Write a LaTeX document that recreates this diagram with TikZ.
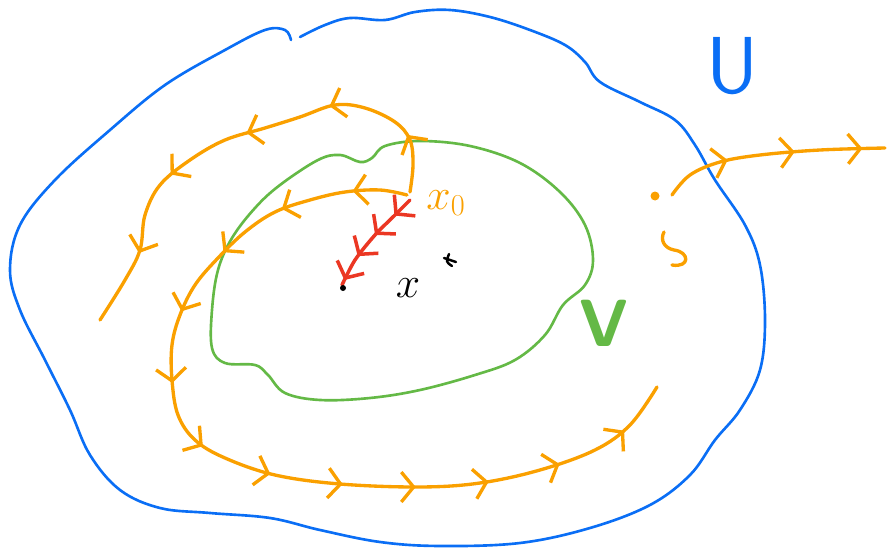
\documentclass[tikz,border=0pt]{standalone}
\usetikzlibrary{arrows.meta, decorations.markings}
\usepackage{xcolor}

\definecolor{ublue}{RGB}{10,110,245}
\definecolor{vgreen}{RGB}{100,185,70}
\definecolor{orbitc}{RGB}{250,160,0}
\definecolor{flowred}{RGB}{235,55,35}

\begin{document}
\begin{tikzpicture}[x=0.02cm, y=-0.02cm,
        setline/.style={line width=1.5pt, line cap=round, line join=round},
        barbs/.style 2 args={postaction={decorate}, decoration={markings,
                    mark=between positions #1 and 0.97 step #2 with
                    {\arrow{Straight Barb[length=7pt, width=17pt]}}}},
        orbit/.style={draw=orbitc, line width=1.9pt, line cap=round, line join=round},
    ]
        \useasboundingbox (0,0) rectangle (887,551);

        % the open set U
        \draw[setline, draw=ublue] plot[smooth, tension=0.6] coordinates {
            (300,37) (325,25) (350,18) (385,20) (415,12) (450,10) (490,17)
            (530,30) (565,45) (585,62) (600,82) (640,102) (675,120) (695,145)
            (715,180) (745,225) (760,265) (765,320) (760,370) (740,410)
            (715,440) (690,475) (650,505) (590,528) (520,543) (440,546)
            (380,542) (320,530) (270,518) (210,513) (160,508) (120,490)
            (90,455) (70,410) (45,360) (20,310) (10,270) (20,225) (55,180)
            (110,130) (165,85) (225,50) (265,30) (285,30) (291,40)};

        % the neighbourhood V
        \draw[setline, draw=vgreen] plot[smooth cycle, tension=0.6] coordinates {
            (318,160) (340,155) (360,162) (372,158) (385,146) (420,141)
            (470,146) (520,163) (560,192) (585,225) (593,260) (585,285)
            (563,305) (545,335) (515,360) (475,375) (420,390) (370,398)
            (320,400) (285,393) (268,375) (255,365) (225,363) (212,348)
            (212,310) (218,270) (232,238) (255,208) (280,185)};

        % orbits
        \draw[orbit, barbs={0.06}{0.08}] plot[smooth, tension=0.6] coordinates {
            (407,195) (380,190) (345,192) (310,200) (275,212) (245,232)
            (218,258) (195,285) (180,315) (172,345) (172,380) (178,415)
            (195,440) (225,458) (275,475) (340,484) (420,487) (480,483)
            (540,470) (595,450) (630,425) (657,387)};
        \draw[orbit, barbs={0.12}{0.18}] plot[smooth, tension=0.6] coordinates {
            (410,192) (413,165) (410,140) (395,122) (365,108) (335,105)
            (300,117) (265,128) (225,140) (190,160) (160,185) (145,215)
            (140,250) (125,280) (100,320)};
        \draw[orbit, barbs={0.3}{0.3}] plot[smooth, tension=0.6] coordinates {
            (672,195) (690,175) (720,162) (760,155) (820,150) (885,148)};
        \fill[orbitc] (655,196) circle (4.5);
        \draw[orbit] (664,232) .. controls (660,240) and (664,248) .. (674,250)
            .. controls (690,252) and (690,268) .. (672,265);

        % flow to the fixed point
        \draw[draw=flowred, line width=2pt, line cap=round,
              barbs={0.2}{0.25}] plot[smooth] coordinates {
            (410,200) (395,215) (375,235) (355,260) (342,285)};

        % labels
        \node[text=ublue, font=\sffamily\fontsize{46}{46}\selectfont] (ulabel) at (733,66) {U};
        \node[text=vgreen, font=\sffamily\bfseries\fontsize{38}{38}\selectfont] (vlabel) at (604,323) {V};
        \node[font=\fontsize{30}{30}\selectfont] (xlabel) at (408,288) {$x$};
        \node[text=orbitc, font=\fontsize{24}{24}\selectfont] (x0label) at (446,203) {$x_0$};
        \draw[line width=1.4pt, line cap=round] (444,258) -- (456,262)
            (449,254) .. controls (446,262) .. (452,266);
        \fill (343,288) circle (3);
    \end{tikzpicture}
\end{document}
